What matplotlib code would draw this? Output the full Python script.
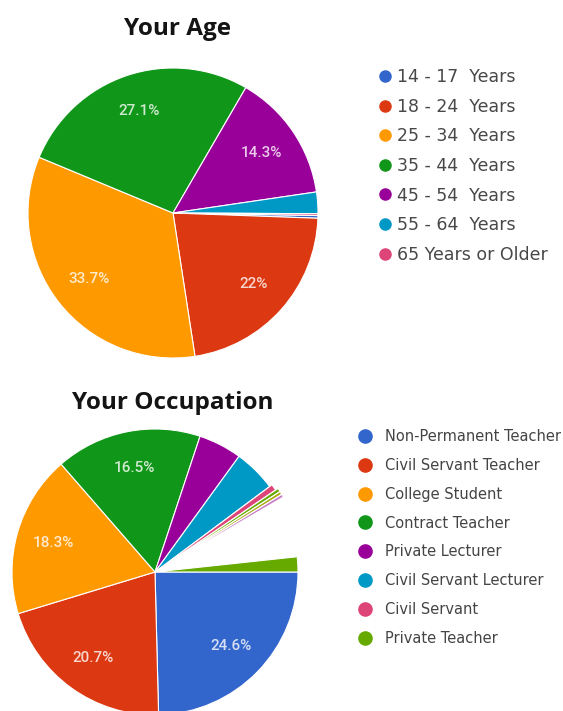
import matplotlib
matplotlib.use("Agg")
import matplotlib.pyplot as plt
from matplotlib.lines import Line2D

W, H, DPI = 563, 711, 100

# ---- data: Your Age ----
age_labels = ["14 - 17  Years", "18 - 24  Years", "25 - 34  Years", "35 - 44  Years",
              "45 - 54  Years", "55 - 64  Years", "65 Years or Older"]
age_values = [0.3, 22.0, 33.7, 27.1, 14.3, 2.4, 0.2]
age_colors = ["#3366CC", "#DC3912", "#FF9900", "#109618", "#990099", "#0099C6", "#DD4477"]

# ---- data: Your Occupation ----
occ_labels = ["Non-Permanent Teacher", "Civil Servant Teacher", "College Student",
              "Contract Teacher", "Private Lecturer", "Civil Servant Lecturer",
              "Civil Servant", "Private Teacher"]
occ_values = [24.6, 20.7, 18.3, 16.5, 4.9, 4.8, 0.7, 1.7]
occ_colors = ["#3366CC", "#DC3912", "#FF9900", "#109618", "#990099", "#0099C6",
              "#DD4477", "#66AA00"]
# unlabeled small categories drawn as slivers after "Civil Servant"
occ_extra_values = [0.4, 0.35, 0.35]
occ_extra_colors = ["#66AA00", "#AAAA11", "#C77DC7"]
# portion missing from the original picture (blank wedge)
occ_blank_value = 6.7

fig = plt.figure(figsize=(W / DPI, H / DPI), dpi=DPI)
fig.patch.set_facecolor("white")

PAD = 1.1


def px_axes(cx, cy, r):
    return fig.add_axes([(cx - r * PAD) / W, (H - (cy + r * PAD)) / H,
                         2 * r * PAD / W, 2 * r * PAD / H])


def fmt_pct(p):
    if p < 5:
        return ""
    return f"{p:.1f}".rstrip("0").rstrip(".") + "%"


text_kw = dict(color="white", alpha=0.8, fontsize=11, family="Roboto",
               fontweight="medium")

# ---- top pie ----
ax1 = px_axes(173, 213, 145)
w1, t1, a1 = ax1.pie(age_values, colors=age_colors, startangle=-1, counterclock=False,
                     radius=1, autopct=fmt_pct, pctdistance=0.74, textprops=text_kw,
                     wedgeprops=dict(edgecolor="white", linewidth=0.8))
ax1.set_xlim(-PAD, PAD)
ax1.set_ylim(-PAD, PAD)
ax1.axis("off")

# ---- bottom pie ----
vals2 = occ_values[:7] + occ_extra_values + [occ_blank_value] + occ_values[7:]
cols2 = occ_colors[:7] + occ_extra_colors + ["white"] + occ_colors[7:]
explode2 = [0, 0, 0, 0, 0, 0, 0.02] + [0.04] * len(occ_extra_values) + [0, 0]
ax2 = px_axes(155, 572, 143)
w2, t2, a2 = ax2.pie(vals2, colors=cols2, startangle=0, counterclock=False,
                     radius=1, explode=explode2, autopct=fmt_pct, pctdistance=0.74,
                     textprops=text_kw,
                     wedgeprops=dict(edgecolor="white", linewidth=0.8))
w2[len(occ_values[:7]) + len(occ_extra_values)].set_linewidth(0)
ax2.set_xlim(-PAD, PAD)
ax2.set_ylim(-PAD, PAD)
ax2.axis("off")

# ---- titles ----
title_kw = dict(fontsize=17.5, fontweight="bold", family="Open Sans", color="#141414",
                ha="center", va="baseline")
fig.text(177 / W, 1 - 35 / H, "Your Age", **title_kw)
fig.text(173 / W, 1 - 409 / H, "Your Occupation", **title_kw)

# ---- legends ----
h1 = [Line2D([], [], marker="o", linestyle="none", markersize=8, markerfacecolor=c,
             markeredgecolor=c) for c in age_colors]
fig.legend(h1, age_labels, loc="upper left", bbox_to_anchor=(377 / W, 1 - 68 / H),
           frameon=False, borderpad=0, borderaxespad=0, handlelength=0.9,
           handletextpad=0.25, labelspacing=0.67,
           prop=dict(family="DejaVu Sans", size=12.5), labelcolor="#484848")

h2 = [Line2D([], [], marker="o", linestyle="none", markersize=9.5, markerfacecolor=c,
             markeredgecolor=c) for c in occ_colors]
fig.legend(h2, occ_labels, loc="upper left", bbox_to_anchor=(358 / W, 1 - 429 / H),
           frameon=False, borderpad=0, borderaxespad=0, handlelength=0.95,
           handletextpad=0.9, labelspacing=0.95,
           prop=dict(family="DejaVu Sans", size=10.5), labelcolor="#444444")

fig.savefig("out.png", dpi=DPI)
